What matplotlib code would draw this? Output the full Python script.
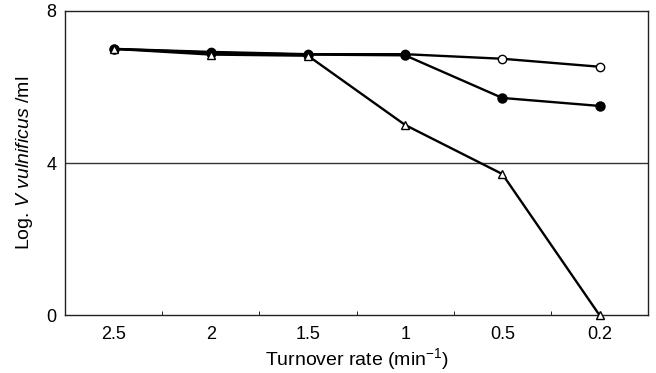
import numpy as np
import matplotlib
matplotlib.use("Agg")
import matplotlib.pyplot as plt

plt.rcParams['font.family'] = ['Liberation Sans', 'DejaVu Sans']
plt.rcParams['mathtext.fontset'] = 'custom'
plt.rcParams['mathtext.rm'] = 'Liberation Sans'
plt.rcParams['mathtext.it'] = 'Liberation Sans:italic'

rates = ['2.5', '2', '1.5', '1', '0.5', '0.2']
open_circle = [7.0, 6.92, 6.86, 6.86, 6.74, 6.53]
filled_circle = [7.0, 6.9, 6.85, 6.83, 5.71, 5.5]
triangle = [7.0, 6.85, 6.82, 5.0, 3.71, 0.0]

x = np.arange(len(rates))

fig, ax = plt.subplots(figsize=(6.56, 3.73), dpi=100)
fig.subplots_adjust(left=0.099, right=0.988, top=0.971, bottom=0.155)

ax.axhline(4, color='#333333', lw=1.0, zorder=1)

ax.plot(x, open_circle, color='black', lw=1.7, marker='o', ms=6,
        mfc='white', mec='black', mew=1.0, zorder=3)
ax.plot(x, filled_circle, color='black', lw=1.7, marker='o', ms=6.5,
        mfc='black', mec='black', zorder=4)
ax.plot(x, triangle, color='black', lw=1.7, marker='^', ms=6,
        mfc='white', mec='black', mew=1.0, zorder=5, clip_on=False)

ax.set_xlim(-0.5, len(rates) - 0.5)
ax.set_ylim(0, 8)
ax.set_yticks([0, 4, 8])
ax.set_xticks(x)
ax.set_xticklabels(rates)
ax.set_xticks(x[:-1] + 0.5, minor=True)
ax.tick_params(axis='x', which='major', length=0, pad=8, labelsize=13)
ax.tick_params(axis='x', which='minor', length=3, direction='in')
ax.tick_params(axis='y', length=0, pad=6, labelsize=13)

for s in ax.spines.values():
    s.set_color('#222222')
    s.set_linewidth(1.0)

ax.set_xlabel('Turnover rate (min$^{-1}$)', fontsize=14, labelpad=2)
ax.set_ylabel(r'Log. $\it{V\ vulnificus}$ /ml', fontsize=14, labelpad=8)

fig.savefig('out.png', dpi=100)
